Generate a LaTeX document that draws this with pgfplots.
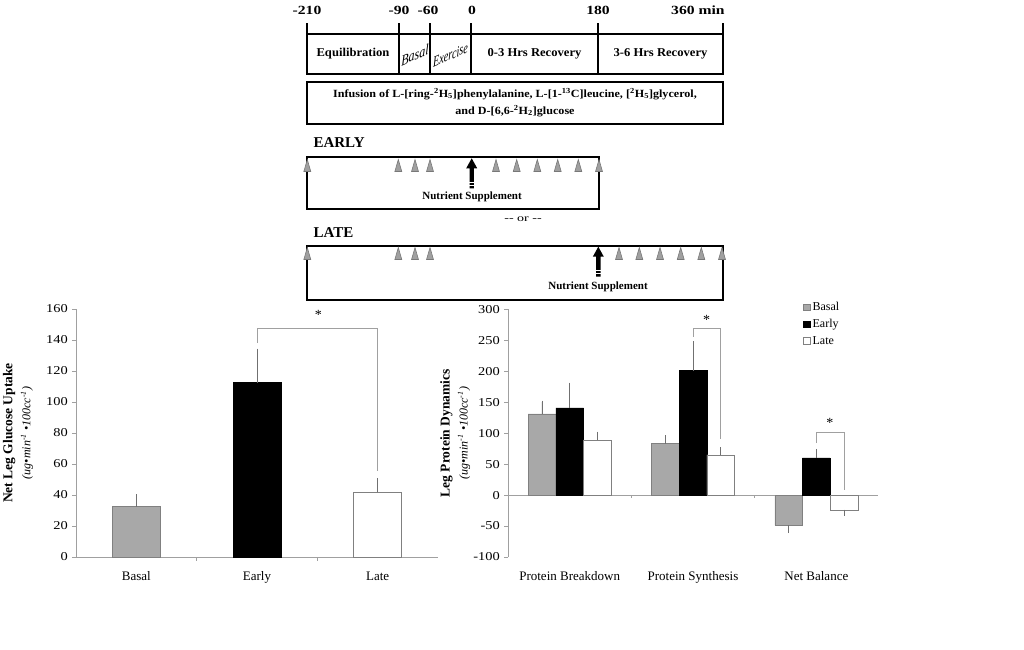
\documentclass[border=0pt]{standalone}
\usepackage{pgfplots}
\pgfplotsset{compat=1.18}
\usepackage{fontspec}
\setmainfont{Liberation Serif}
\definecolor{basal}{HTML}{A8A8A8}
\definecolor{edge}{HTML}{808080}
\definecolor{axgray}{HTML}{A0A0A0}
\definecolor{errgray}{HTML}{707070}
\definecolor{trifill}{HTML}{A0A0A0}
\definecolor{tridraw}{HTML}{787878}
\newcommand{\fs}[1]{\fontsize{#1}{#1}\selectfont}
\begin{document}
\begin{tikzpicture}
\path[use as bounding box] (0,0) rectangle (1024pt,649pt);
% ---------------- protocol diagram (pixel coordinates) ----------------
\begin{axis}[at={(0,0)}, anchor=south west, width=1024pt, height=649pt, scale only axis,
  xmin=0, xmax=1024, ymin=0, ymax=649, y dir=reverse, hide axis, clip=false]
% time labels
\node[font=\bfseries\fs{12.5}, xscale=1.25] at (axis cs:307,10) {-210};
\node[font=\bfseries\fs{12.5}, xscale=1.25] at (axis cs:399,10) {-90};
\node[font=\bfseries\fs{12.5}, xscale=1.25] at (axis cs:428,10) {-60};
\node[font=\bfseries\fs{12.5}, xscale=1.25] at (axis cs:472,10) {0};
\node[font=\bfseries\fs{12.5}, xscale=1.25] at (axis cs:598,10) {180};
\node[font=\bfseries\fs{12.5}, xscale=1.25, anchor=east] at (axis cs:729,10) {360 min};
% timeline box
\draw[line width=1.8pt] (axis cs:307,34.3) rectangle (axis cs:723,74);
\pgfplotsinvokeforeach{307,399,430,471,598,723}{
  \draw[line width=1.8pt] (axis cs:#1,23) -- (axis cs:#1,74);
}
\node[font=\bfseries\fs{12}, xscale=1.05] at (axis cs:353,54) {Equilibration};
\node[font=\itshape\fs{15}, yslant=0.45, xscale=0.8, inner sep=0pt] at (axis cs:415,55) {Basal};
\node[font=\itshape\fs{15}, yslant=0.45, xscale=0.68, inner sep=0pt] at (axis cs:450.5,55) {Exercise};
\node[font=\bfseries\fs{12}, xscale=1.05] at (axis cs:534.5,54) {0-3 Hrs Recovery};
\node[font=\bfseries\fs{12}, xscale=1.05] at (axis cs:660.5,54) {3-6 Hrs Recovery};
% infusion box
\draw[line width=1.8pt] (axis cs:307,81.7) rectangle (axis cs:723,124);
\node[font=\bfseries\fontsize{11}{17}\selectfont, align=center, xscale=1.1] at (axis cs:515,102.5)
 {Infusion of L-[ring-\textsuperscript{2}H\textsubscript{5}]phenylalanine, L-[1-\textsuperscript{13}C]leucine, [\textsuperscript{2}H\textsubscript{5}]glycerol,\\ and D-[6,6-\textsuperscript{2}H\textsubscript{2}]glucose};
% EARLY
\node[font=\bfseries\fs{15}, anchor=west] at (axis cs:310,143) {EARLY};
\draw[line width=1.8pt] (axis cs:307,156.7) rectangle (axis cs:599,209);
\addplot[only marks, mark=triangle*, mark size=8pt,
  mark options={xscale=0.5, fill=trifill, draw=tridraw, line width=0.6pt}]
  coordinates {(307.3,167.5) (398.3,167.5) (415,167.5) (430,167.5) (496,167.5)
  (516.7,167.5) (537.3,167.5) (557.7,167.5) (578.3,167.5) (599,167.5)};
\fill (axis cs:471.7,158.3) -- ++(5.5pt,-10pt) -- ++(-3.3pt,0pt) -- ++(0pt,-20pt)
  -- ++(-4.4pt,0pt) -- ++(0pt,20pt) -- ++(-3.3pt,0pt) -- cycle;
\draw[white, line width=0.8pt] (axis cs:469,182) -- (axis cs:474.5,182);
\draw[white, line width=0.8pt] (axis cs:469,185) -- (axis cs:474.5,185);
\node[font=\bfseries\fs{11}] at (axis cs:472,197) {Nutrient Supplement};
\node[font=\fs{10}, xscale=1.4] at (axis cs:523,219) {-{}- or -{}-};
% LATE
\node[font=\bfseries\fs{15}, anchor=west] at (axis cs:310,232.3) {LATE};
\draw[line width=1.8pt] (axis cs:307,245.7) rectangle (axis cs:723,300);
\addplot[only marks, mark=triangle*, mark size=8pt,
  mark options={xscale=0.5, fill=trifill, draw=tridraw, line width=0.6pt}]
  coordinates {(307.3,255.5) (398.3,255.5) (415,255.5) (430,255.5) (619,255.5)
  (639.3,255.5) (660,255.5) (680.7,255.5) (701.3,255.5) (722,255.5)};
\fill (axis cs:598.3,246.7) -- ++(5.5pt,-10pt) -- ++(-3.3pt,0pt) -- ++(0pt,-20pt)
  -- ++(-4.4pt,0pt) -- ++(0pt,20pt) -- ++(-3.3pt,0pt) -- cycle;
\draw[white, line width=0.8pt] (axis cs:595.6,270.5) -- (axis cs:601,270.5);
\draw[white, line width=0.8pt] (axis cs:595.6,273.5) -- (axis cs:601,273.5);
\node[font=\bfseries\fs{11}] at (axis cs:598,286.7) {Nutrient Supplement};
\end{axis}
% ---------------- left chart ----------------
\begin{axis}[at={(76pt,92pt)}, anchor=south west, width=362pt, height=248pt, scale only axis,
  xmin=-0.5, xmax=2.5, ymin=0, ymax=160, clip=false,
  axis x line=bottom, axis y line=left, axis line style={-, draw=axgray, line width=0.8pt},
  xtick={0,1,2}, xticklabels={Basal,Early,Late}, x tick style={draw=none},
  ytick={0,20,...,160}, y tick style={draw=axgray, line width=0.8pt},
  tick align=outside, major tick length=4pt,
  xticklabel style={font=\fs{13}, text height=9pt, text depth=3pt, yshift=-7pt},
  yticklabel style={font=\fs{12}, xscale=1.2},
  /pgf/number format/assume math mode=true,
  ylabel={\textbf{Net Leg Glucose Uptake}\\{\itshape\fs{12}(ug•min\textsuperscript{-1} •100cc\textsuperscript{-1})}},
  ylabel style={at={(axis description cs:-0.16,0.5)}, anchor=center, align=center, font=\fontsize{13.5}{18}\selectfont},
  error bars/error bar style={color=errgray, line width=0.8pt},
  error bars/error mark options={color=errgray, mark size=1.5pt, line width=0.8pt}]
\draw[axgray, line width=0.8pt] (axis cs:0.5,0) -- ++(0pt,-4pt);
\draw[axgray, line width=0.8pt] (axis cs:1.5,0) -- ++(0pt,-4pt);
\addplot[ybar, bar shift=0pt, bar width=48pt, fill=basal, draw=edge,
  error bars/.cd, y dir=plus, y explicit] coordinates {(0,32.5) +- (0,6.9)};
\addplot[ybar, bar shift=0pt, bar width=48pt, fill=black, draw=black,
  error bars/.cd, y dir=plus, y explicit] coordinates {(1,112.5) +- (0,21)};
\addplot[ybar, bar shift=0pt, bar width=48pt, fill=white, draw=edge,
  error bars/.cd, y dir=plus, y explicit] coordinates {(2,41.7) +- (0,8.4)};
\draw[axgray, line width=0.8pt] (axis cs:1,138) |- (axis cs:2,147.5) -- (axis cs:2,55.5);
\node[font=\fs{14}] at (axis cs:1.508,156) {*};
\end{axis}
% ---------------- right chart ----------------
\begin{axis}[at={(508pt,92pt)}, anchor=south west, width=370pt, height=247.7pt, scale only axis,
  xmin=-0.5, xmax=2.5, ymin=-100, ymax=300, clip=false,
  ybar=0pt, bar width=27.7pt,
  axis x line=bottom, axis y line=left, axis line style={-, draw=axgray, line width=0.8pt},
  x axis line style={draw=none},
  xtick={0,1,2}, xticklabels={Protein Breakdown,Protein Synthesis,Net Balance}, x tick style={draw=none},
  ytick={-100,-50,...,300}, yticklabels={-100,-50,0,50,100,150,200,250,300},
  y tick style={draw=axgray, line width=0.8pt},
  tick align=outside, major tick length=4pt,
  xticklabel style={font=\fs{13}, text height=9pt, text depth=3pt, yshift=-7pt},
  yticklabel style={font=\fs{12}, xscale=1.2},
  /pgf/number format/assume math mode=true,
  ylabel={\textbf{Leg Protein Dynamics}\\{\itshape\fs{12}(ug•min\textsuperscript{-1} •100cc\textsuperscript{-1})}},
  ylabel style={at={(axis description cs:-0.143,0.5)}, anchor=center, align=center, font=\fontsize{13.5}{18}\selectfont},
  legend style={at={(rel axis cs:0.797,1.036)}, anchor=north west, draw=none, fill=none,
    font=\fs{12}, row sep=3pt, inner sep=0pt},
  legend cell align=left,
  legend image code/.code={\draw[#1, line width=0.5pt] (0pt,-3.2pt) rectangle (7pt,3.2pt);},
  error bars/error bar style={color=errgray, line width=0.8pt},
  error bars/error mark options={color=errgray, mark size=1.5pt, line width=0.8pt}]
\draw[axgray, line width=0.8pt] (axis cs:-0.5,0) -- (axis cs:2.5,0);
\draw[axgray, line width=0.8pt] (axis cs:0.5,0) -- ++(0pt,-3pt);
\draw[axgray, line width=0.8pt] (axis cs:1.5,0) -- ++(0pt,-3pt);
\addplot[fill=basal, draw=edge, error bars/.cd, y dir=plus, y explicit]
  coordinates {(0,131) +- (0,19) (1,83) +- (0,11) (2,-49) +- (0,-10)};
\addplot[fill=black, draw=black, error bars/.cd, y dir=plus, y explicit]
  coordinates {(0,141) +- (0,38) (1,201) +- (0,45) (2,60) +- (0,12)};
\addplot[fill=white, draw=edge, error bars/.cd, y dir=plus, y explicit]
  coordinates {(0,89) +- (0,11) (1,65) +- (0,10) (2,-24) +- (0,-7)};
\legend{Basal,Early,Late}
\draw[axgray, line width=0.8pt] (axis cs:1,256) |- (axis cs:1.2246,269) -- (axis cs:1.2246,90);
\node[font=\fs{14}] at (axis cs:1.11,283) {*};
\draw[axgray, line width=0.8pt] (axis cs:2,84) |- (axis cs:2.2246,102) -- (axis cs:2.2246,9);
\node[font=\fs{14}] at (axis cs:2.11,117) {*};
\end{axis}
\end{tikzpicture}
\end{document}
